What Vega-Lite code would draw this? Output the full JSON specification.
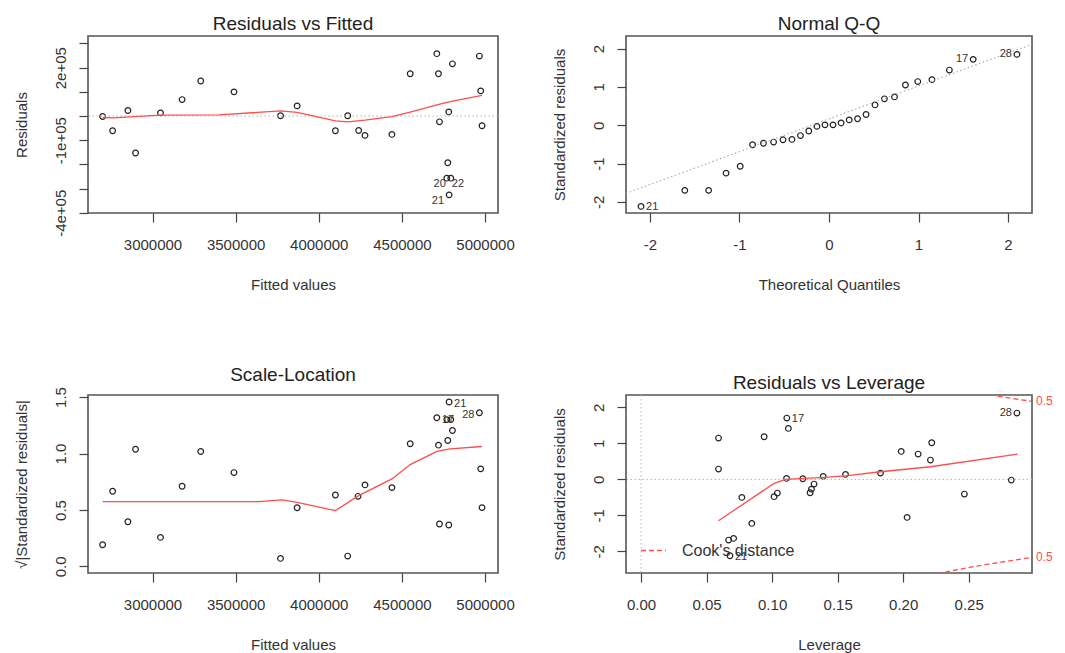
{
  "$schema": "https://vega.github.io/schema/vega-lite/v6.json",
  "background": "white",
  "padding": {"left": 13, "top": 14, "right": 5, "bottom": 5},
  "bounds": "flush",
  "columns": 2,
  "spacing": {"row": 182, "column": 128},
  "resolve": {"scale": {"color": "independent"}, "legend": {"color": "independent"}},
  "config": {
    "font": "Liberation Sans",
    "view": {"stroke": "#555555", "strokeWidth": 1.6},
    "axis": {
      "domain": false, "grid": false, "ticks": true, "tickSize": 9, "tickColor": "#444444", "tickWidth": 1.2,
      "labelFont": "Liberation Sans", "labelFontSize": 15, "labelColor": "#333333", "labelFlush": false, "labelOverlap": false,
      "titleFont": "Liberation Sans", "titleFontSize": 15, "titleFontWeight": "normal", "titleColor": "#333333"
    },
    "axisX": {"labelPadding": 15, "titlePadding": 25},
    "axisY": {"labelAngle": 270, "labelAlign": "center", "labelBaseline": "bottom", "labelPadding": 11, "titlePadding": 24},
    "title": {"font": "Liberation Sans", "fontSize": 19, "fontWeight": "normal", "color": "#222222", "anchor": "middle", "frame": "group", "offset": 2},
    "text": {"font": "Liberation Sans", "fontSize": 11, "color": "#333333"},
    "point": {"shape": "circle", "filled": false, "stroke": "#222222", "strokeWidth": 1.2, "size": 32, "opacity": 1}
  },
  "datasets": {
    "p1": [
      {"fitted": 2700000, "residual": -2000},
      {"fitted": 2760000, "residual": -61000},
      {"fitted": 2852000, "residual": 23000},
      {"fitted": 2898000, "residual": -153000},
      {"fitted": 3048000, "residual": 13000},
      {"fitted": 3178000, "residual": 68000},
      {"fitted": 3290000, "residual": 145000},
      {"fitted": 3490000, "residual": 100000},
      {"fitted": 3770000, "residual": 1000},
      {"fitted": 3870000, "residual": 42000},
      {"fitted": 4100000, "residual": -61000},
      {"fitted": 4174000, "residual": 1000},
      {"fitted": 4240000, "residual": -60000},
      {"fitted": 4278000, "residual": -80000},
      {"fitted": 4440000, "residual": -76000},
      {"fitted": 4550000, "residual": 175000},
      {"fitted": 4710000, "residual": 258000},
      {"fitted": 4720000, "residual": 175000},
      {"fitted": 4726000, "residual": -24000},
      {"fitted": 4804000, "residual": 216000},
      {"fitted": 4782000, "residual": 17000},
      {"fitted": 4776000, "residual": -193000},
      {"fitted": 4770000, "residual": -257000, "id": "22"},
      {"fitted": 4794000, "residual": -257000, "id": "20"},
      {"fitted": 4784000, "residual": -326000, "id": "21"},
      {"fitted": 4966000, "residual": 248000},
      {"fitted": 4974000, "residual": 104000},
      {"fitted": 4982000, "residual": -40000}
    ],
    "p1smooth": [
      {"fitted": 2700000, "residual": -6000},
      {"fitted": 2760000, "residual": -8000},
      {"fitted": 3048000, "residual": 4000},
      {"fitted": 3400000, "residual": 5000},
      {"fitted": 3770000, "residual": 21000},
      {"fitted": 3870000, "residual": 15000},
      {"fitted": 4100000, "residual": -20000},
      {"fitted": 4174000, "residual": -24000},
      {"fitted": 4278000, "residual": -17000},
      {"fitted": 4440000, "residual": -2000},
      {"fitted": 4550000, "residual": 16000},
      {"fitted": 4710000, "residual": 46000},
      {"fitted": 4790000, "residual": 60000},
      {"fitted": 4982000, "residual": 85000}
    ],
    "p2": [
      {"theoretical": -2.100, "standardized": -2.12, "id": "21"},
      {"theoretical": -1.611, "standardized": -1.70},
      {"theoretical": -1.345, "standardized": -1.70},
      {"theoretical": -1.150, "standardized": -1.25},
      {"theoretical": -0.992, "standardized": -1.07},
      {"theoretical": -0.854, "standardized": -0.51},
      {"theoretical": -0.732, "standardized": -0.47},
      {"theoretical": -0.619, "standardized": -0.44},
      {"theoretical": -0.514, "standardized": -0.38},
      {"theoretical": -0.414, "standardized": -0.37},
      {"theoretical": -0.319, "standardized": -0.27},
      {"theoretical": -0.226, "standardized": -0.15},
      {"theoretical": -0.135, "standardized": -0.03},
      {"theoretical": -0.045, "standardized": 0.01},
      {"theoretical": 0.045, "standardized": 0.01},
      {"theoretical": 0.135, "standardized": 0.06},
      {"theoretical": 0.226, "standardized": 0.14},
      {"theoretical": 0.319, "standardized": 0.17},
      {"theoretical": 0.414, "standardized": 0.28},
      {"theoretical": 0.514, "standardized": 0.53},
      {"theoretical": 0.619, "standardized": 0.69},
      {"theoretical": 0.732, "standardized": 0.74},
      {"theoretical": 0.854, "standardized": 1.05},
      {"theoretical": 0.992, "standardized": 1.14},
      {"theoretical": 1.150, "standardized": 1.19},
      {"theoretical": 1.345, "standardized": 1.44},
      {"theoretical": 1.611, "standardized": 1.72, "id": "17"},
      {"theoretical": 2.100, "standardized": 1.85, "id": "28"}
    ],
    "p2line": [
      {"theoretical": -2.268, "standardized": -1.778},
      {"theoretical": 2.268, "standardized": 2.114}
    ],
    "p3": [
      {"fitted": 2700000, "root": 0.192},
      {"fitted": 2760000, "root": 0.666},
      {"fitted": 2852000, "root": 0.396},
      {"fitted": 2898000, "root": 1.038},
      {"fitted": 3048000, "root": 0.257},
      {"fitted": 3178000, "root": 0.71},
      {"fitted": 3290000, "root": 1.018},
      {"fitted": 3490000, "root": 0.831},
      {"fitted": 3770000, "root": 0.071},
      {"fitted": 3870000, "root": 0.52},
      {"fitted": 4100000, "root": 0.633},
      {"fitted": 4174000, "root": 0.092},
      {"fitted": 4236000, "root": 0.621},
      {"fitted": 4278000, "root": 0.722},
      {"fitted": 4440000, "root": 0.698},
      {"fitted": 4550000, "root": 1.086},
      {"fitted": 4710000, "root": 1.317, "id": "17"},
      {"fitted": 4720000, "root": 1.074},
      {"fitted": 4726000, "root": 0.376},
      {"fitted": 4770000, "root": 1.30},
      {"fitted": 4794000, "root": 1.30},
      {"fitted": 4784000, "root": 1.456, "id": "21"},
      {"fitted": 4776000, "root": 1.115},
      {"fitted": 4804000, "root": 1.204},
      {"fitted": 4782000, "root": 0.367},
      {"fitted": 4966000, "root": 1.361, "id": "28"},
      {"fitted": 4974000, "root": 0.864},
      {"fitted": 4982000, "root": 0.521}
    ],
    "p3smooth": [
      {"fitted": 2700000, "root": 0.574},
      {"fitted": 3640000, "root": 0.574},
      {"fitted": 3780000, "root": 0.589},
      {"fitted": 3870000, "root": 0.568},
      {"fitted": 4100000, "root": 0.494},
      {"fitted": 4240000, "root": 0.627},
      {"fitted": 4440000, "root": 0.775},
      {"fitted": 4550000, "root": 0.902},
      {"fitted": 4710000, "root": 1.018},
      {"fitted": 4790000, "root": 1.041},
      {"fitted": 4982000, "root": 1.062}
    ],
    "p4": [
      {"leverage": 0.0591, "standardized": 1.148},
      {"leverage": 0.0591, "standardized": 0.287},
      {"leverage": 0.0668, "standardized": -1.685},
      {"leverage": 0.0706, "standardized": -1.639},
      {"leverage": 0.0678, "standardized": -2.12, "id": "21"},
      {"leverage": 0.0769, "standardized": -0.50},
      {"leverage": 0.0845, "standardized": -1.222},
      {"leverage": 0.0939, "standardized": 1.185},
      {"leverage": 0.1015, "standardized": -0.48},
      {"leverage": 0.104, "standardized": -0.38},
      {"leverage": 0.111, "standardized": 0.028},
      {"leverage": 0.1112, "standardized": 1.704, "id": "17"},
      {"leverage": 0.1124, "standardized": 1.417},
      {"leverage": 0.1234, "standardized": 0.019},
      {"leverage": 0.129, "standardized": -0.37},
      {"leverage": 0.130, "standardized": -0.27},
      {"leverage": 0.132, "standardized": -0.13},
      {"leverage": 0.139, "standardized": 0.083},
      {"leverage": 0.156, "standardized": 0.139},
      {"leverage": 0.1827, "standardized": 0.176},
      {"leverage": 0.1985, "standardized": 0.778},
      {"leverage": 0.203, "standardized": -1.056},
      {"leverage": 0.2114, "standardized": 0.704},
      {"leverage": 0.2208, "standardized": 0.537},
      {"leverage": 0.2218, "standardized": 1.019},
      {"leverage": 0.2467, "standardized": -0.407},
      {"leverage": 0.2825, "standardized": -0.019},
      {"leverage": 0.2868, "standardized": 1.843, "id": "28"}
    ],
    "p4smooth": [
      {"leverage": 0.0591, "standardized": -1.148},
      {"leverage": 0.1015, "standardized": -0.11},
      {"leverage": 0.1104, "standardized": 0.0},
      {"leverage": 0.1396, "standardized": 0.056},
      {"leverage": 0.156, "standardized": 0.10},
      {"leverage": 0.1827, "standardized": 0.213},
      {"leverage": 0.2208, "standardized": 0.352},
      {"leverage": 0.2873, "standardized": 0.70}
    ],
    "p4cook": [
      {"leverage": 0.26, "standardized": 2.386, "branch": "upper", "series": "Cook's distance"},
      {"leverage": 0.265, "standardized": 2.355, "branch": "upper", "series": "Cook's distance"},
      {"leverage": 0.27, "standardized": 2.325, "branch": "upper", "series": "Cook's distance"},
      {"leverage": 0.28, "standardized": 2.268, "branch": "upper", "series": "Cook's distance"},
      {"leverage": 0.29, "standardized": 2.213, "branch": "upper", "series": "Cook's distance"},
      {"leverage": 0.2983, "standardized": 2.169, "branch": "upper", "series": "Cook's distance"},
      {"leverage": 0.22, "standardized": -2.663, "branch": "lower", "series": "Cook's distance"},
      {"leverage": 0.23, "standardized": -2.588, "branch": "lower", "series": "Cook's distance"},
      {"leverage": 0.24, "standardized": -2.517, "branch": "lower", "series": "Cook's distance"},
      {"leverage": 0.25, "standardized": -2.449, "branch": "lower", "series": "Cook's distance"},
      {"leverage": 0.26, "standardized": -2.386, "branch": "lower", "series": "Cook's distance"},
      {"leverage": 0.27, "standardized": -2.325, "branch": "lower", "series": "Cook's distance"},
      {"leverage": 0.28, "standardized": -2.268, "branch": "lower", "series": "Cook's distance"},
      {"leverage": 0.29, "standardized": -2.213, "branch": "lower", "series": "Cook's distance"},
      {"leverage": 0.2983, "standardized": -2.169, "branch": "lower", "series": "Cook's distance"}
    ],
    "p4cooklab": [
      {"leverage": 0.2983, "standardized": 2.169, "level": "0.5"},
      {"leverage": 0.2983, "standardized": -2.169, "level": "0.5"}
    ]
  },
  "concat": [
    {
      "width": 410, "height": 177,
      "title": "Residuals vs Fitted",
      "layer": [
        {
          "data": {"name": "p1"},
          "mark": {"type": "point"},
          "encoding": {
            "x": {"field": "fitted", "type": "quantitative", "title": "Fitted values", "scale": {"domain": [2612000, 5078000], "nice": false, "zero": false},
                  "axis": {"values": [3000000, 3500000, 4000000, 4500000, 5000000], "format": "d", "labelOverlap": false}},
            "y": {"field": "residual", "type": "quantitative", "title": "Residuals", "scale": {"domain": [-401000, 331000], "nice": false, "zero": false},
                  "axis": {"tickCount": 8, "values": [-400000, -300000, -200000, -100000, 0, 100000, 200000, 300000], "labelOverlap": false,
                           "labelExpr": "datum.value == 200000 ? '2e+05' : datum.value == -100000 ? '-1e+05' : datum.value == -400000 ? '-4e+05' : ''"}}
          }
        },
        {
          "data": {"values": [{"residual": 0}]},
          "mark": {"type": "rule", "color": "#b5b5b5", "strokeDash": [1.5, 2.5], "strokeWidth": 1},
          "encoding": {"y": {"field": "residual", "type": "quantitative", "title": "Residuals", "scale": {"domain": [-401000, 331000], "nice": false, "zero": false}}}
        },
        {
          "data": {"name": "p1smooth"},
          "mark": {"type": "line", "color": "#ff4d4d", "strokeWidth": 1.3},
          "encoding": {
            "x": {"field": "fitted", "type": "quantitative", "title": "Fitted values", "scale": {"domain": [2612000, 5078000], "nice": false, "zero": false}},
            "y": {"field": "residual", "type": "quantitative", "title": "Residuals", "scale": {"domain": [-401000, 331000], "nice": false, "zero": false}}
          }
        },
        {
          "data": {"name": "p1"},
          "transform": [{"filter": "datum.id == '22'"}],
          "mark": {"type": "text", "align": "left", "baseline": "middle", "dx": 5, "dy": 6},
          "encoding": {
            "x": {"field": "fitted", "type": "quantitative", "title": "Fitted values", "scale": {"domain": [2612000, 5078000], "nice": false, "zero": false}},
            "y": {"field": "residual", "type": "quantitative", "title": "Residuals", "scale": {"domain": [-401000, 331000], "nice": false, "zero": false}},
            "text": {"field": "id"}
          }
        },
        {
          "data": {"name": "p1"},
          "transform": [{"filter": "datum.id == '20' || datum.id == '21'"}],
          "mark": {"type": "text", "align": "right", "baseline": "middle", "dx": -5, "dy": 6},
          "encoding": {
            "x": {"field": "fitted", "type": "quantitative", "title": "Fitted values", "scale": {"domain": [2612000, 5078000], "nice": false, "zero": false}},
            "y": {"field": "residual", "type": "quantitative", "title": "Residuals", "scale": {"domain": [-401000, 331000], "nice": false, "zero": false}},
            "text": {"field": "id"}
          }
        }
      ]
    },
    {
      "width": 406, "height": 177,
      "title": "Normal Q-Q",
      "layer": [
        {
          "data": {"name": "p2"},
          "mark": {"type": "point"},
          "encoding": {
            "x": {"field": "theoretical", "type": "quantitative", "title": "Theoretical Quantiles", "scale": {"domain": [-2.268, 2.268], "nice": false, "zero": false},
                  "axis": {"values": [-2, -1, 0, 1, 2], "format": "d", "labelOverlap": false, "labelExpr": "replace(datum.label, '−', '-')"}},
            "y": {"field": "standardized", "type": "quantitative", "title": "Standardized residuals", "scale": {"domain": [-2.291, 2.33], "nice": false, "zero": false},
                  "axis": {"values": [-2, -1, 0, 1, 2], "format": "d", "labelOverlap": false, "labelExpr": "replace(datum.label, '−', '-')"}}
          }
        },
        {
          "data": {"name": "p2line"},
          "mark": {"type": "line", "color": "#a8a8a8", "strokeDash": [1.5, 2.5], "strokeWidth": 1.1, "clip": true},
          "encoding": {
            "x": {"field": "theoretical", "type": "quantitative", "title": "Theoretical Quantiles", "scale": {"domain": [-2.268, 2.268], "nice": false, "zero": false}},
            "y": {"field": "standardized", "type": "quantitative", "title": "Standardized residuals", "scale": {"domain": [-2.291, 2.33], "nice": false, "zero": false}}
          }
        },
        {
          "data": {"name": "p2"},
          "transform": [{"filter": "datum.id == '21'"}],
          "mark": {"type": "text", "align": "left", "baseline": "middle", "dx": 5, "dy": 1},
          "encoding": {
            "x": {"field": "theoretical", "type": "quantitative", "title": "Theoretical Quantiles", "scale": {"domain": [-2.268, 2.268], "nice": false, "zero": false}},
            "y": {"field": "standardized", "type": "quantitative", "title": "Standardized residuals", "scale": {"domain": [-2.291, 2.33], "nice": false, "zero": false}},
            "text": {"field": "id"}
          }
        },
        {
          "data": {"name": "p2"},
          "transform": [{"filter": "datum.id == '17' || datum.id == '28'"}],
          "mark": {"type": "text", "align": "right", "baseline": "middle", "dx": -5, "dy": 0},
          "encoding": {
            "x": {"field": "theoretical", "type": "quantitative", "title": "Theoretical Quantiles", "scale": {"domain": [-2.268, 2.268], "nice": false, "zero": false}},
            "y": {"field": "standardized", "type": "quantitative", "title": "Standardized residuals", "scale": {"domain": [-2.291, 2.33], "nice": false, "zero": false}},
            "text": {"field": "id"}
          }
        }
      ]
    },
    {
      "width": 410, "height": 178,
      "title": "Scale-Location",
      "layer": [
        {
          "data": {"name": "p3"},
          "mark": {"type": "point"},
          "encoding": {
            "x": {"field": "fitted", "type": "quantitative", "title": "Fitted values", "scale": {"domain": [2612000, 5078000], "nice": false, "zero": false},
                  "axis": {"values": [3000000, 3500000, 4000000, 4500000, 5000000], "format": "d", "labelOverlap": false}},
            "y": {"field": "root", "type": "quantitative", "title": "√|Standardized residuals|", "scale": {"domain": [-0.058, 1.518], "nice": false, "zero": false},
                  "axis": {"values": [0, 0.5, 1, 1.5], "format": ".1f", "labelOverlap": false}}
          }
        },
        {
          "data": {"name": "p3smooth"},
          "mark": {"type": "line", "color": "#ff4d4d", "strokeWidth": 1.3},
          "encoding": {
            "x": {"field": "fitted", "type": "quantitative", "title": "Fitted values", "scale": {"domain": [2612000, 5078000], "nice": false, "zero": false}},
            "y": {"field": "root", "type": "quantitative", "title": "√|Standardized residuals|", "scale": {"domain": [-0.058, 1.518], "nice": false, "zero": false}}
          }
        },
        {
          "data": {"name": "p3"},
          "transform": [{"filter": "datum.id == '21' || datum.id == '17'"}],
          "mark": {"type": "text", "align": "left", "baseline": "middle", "dx": 5, "dy": 2},
          "encoding": {
            "x": {"field": "fitted", "type": "quantitative", "title": "Fitted values", "scale": {"domain": [2612000, 5078000], "nice": false, "zero": false}},
            "y": {"field": "root", "type": "quantitative", "title": "√|Standardized residuals|", "scale": {"domain": [-0.058, 1.518], "nice": false, "zero": false}},
            "text": {"field": "id"}
          }
        },
        {
          "data": {"name": "p3"},
          "transform": [{"filter": "datum.id == '28'"}],
          "mark": {"type": "text", "align": "right", "baseline": "middle", "dx": -5, "dy": 2},
          "encoding": {
            "x": {"field": "fitted", "type": "quantitative", "title": "Fitted values", "scale": {"domain": [2612000, 5078000], "nice": false, "zero": false}},
            "y": {"field": "root", "type": "quantitative", "title": "√|Standardized residuals|", "scale": {"domain": [-0.058, 1.518], "nice": false, "zero": false}},
            "text": {"field": "id"}
          }
        }
      ]
    },
    {
      "width": 406, "height": 178,
      "title": "Residuals vs Leverage",
      "layer": [
        {
          "data": {"name": "p4"},
          "mark": {"type": "point"},
          "encoding": {
            "x": {"field": "leverage", "type": "quantitative", "title": "Leverage", "scale": {"domain": [-0.0115, 0.2983], "nice": false, "zero": false},
                  "axis": {"values": [0, 0.05, 0.1, 0.15, 0.2, 0.25], "format": ".2f", "labelOverlap": false}},
            "y": {"field": "standardized", "type": "quantitative", "title": "Standardized residuals", "scale": {"domain": [-2.6, 2.345], "nice": false, "zero": false},
                  "axis": {"values": [-2, -1, 0, 1, 2], "format": "d", "labelOverlap": false, "labelExpr": "replace(datum.label, '−', '-')"}}
          }
        },
        {
          "data": {"values": [{"leverage": 0}]},
          "mark": {"type": "rule", "color": "#b5b5b5", "strokeDash": [1.5, 2.5], "strokeWidth": 1},
          "encoding": {"x": {"field": "leverage", "type": "quantitative", "title": "Leverage", "scale": {"domain": [-0.0115, 0.2983], "nice": false, "zero": false}}}
        },
        {
          "data": {"values": [{"standardized": 0}]},
          "mark": {"type": "rule", "color": "#b5b5b5", "strokeDash": [1.5, 2.5], "strokeWidth": 1},
          "encoding": {"y": {"field": "standardized", "type": "quantitative", "title": "Standardized residuals", "scale": {"domain": [-2.6, 2.345], "nice": false, "zero": false}}}
        },
        {
          "data": {"name": "p4smooth"},
          "mark": {"type": "line", "color": "#ff4d4d", "strokeWidth": 1.3},
          "encoding": {
            "x": {"field": "leverage", "type": "quantitative", "title": "Leverage", "scale": {"domain": [-0.0115, 0.2983], "nice": false, "zero": false}},
            "y": {"field": "standardized", "type": "quantitative", "title": "Standardized residuals", "scale": {"domain": [-2.6, 2.345], "nice": false, "zero": false}}
          }
        },
        {
          "data": {"name": "p4cook"},
          "mark": {"type": "line", "strokeDash": [5, 3], "strokeWidth": 1.3, "clip": true},
          "encoding": {
            "x": {"field": "leverage", "type": "quantitative", "title": "Leverage", "scale": {"domain": [-0.0115, 0.2983], "nice": false, "zero": false}},
            "y": {"field": "standardized", "type": "quantitative", "title": "Standardized residuals", "scale": {"domain": [-2.6, 2.345], "nice": false, "zero": false}},
            "detail": {"field": "branch"},
            "color": {"field": "series", "type": "nominal", "scale": {"domain": ["Cook's distance"], "range": ["#ff4d4d"]},
                      "legend": {"title": null, "orient": "bottom-left", "offset": 14, "padding": 0, "symbolType": "stroke", "symbolDash": [5, 3],
                                 "symbolStrokeWidth": 1.5, "symbolSize": 625, "labelFontSize": 16, "labelFont": "Liberation Sans", "labelColor": "#333333", "labelOffset": 15}}
          }
        },
        {
          "data": {"name": "p4cooklab"},
          "mark": {"type": "text", "align": "left", "baseline": "middle", "dx": 4, "color": "#ff4d4d", "fontSize": 12},
          "encoding": {
            "x": {"field": "leverage", "type": "quantitative", "title": "Leverage", "scale": {"domain": [-0.0115, 0.2983], "nice": false, "zero": false}},
            "y": {"field": "standardized", "type": "quantitative", "title": "Standardized residuals", "scale": {"domain": [-2.6, 2.345], "nice": false, "zero": false}},
            "text": {"field": "level"}
          }
        },
        {
          "data": {"name": "p4"},
          "transform": [{"filter": "datum.id == '21' || datum.id == '17'"}],
          "mark": {"type": "text", "align": "left", "baseline": "middle", "dx": 5, "dy": 1},
          "encoding": {
            "x": {"field": "leverage", "type": "quantitative", "title": "Leverage", "scale": {"domain": [-0.0115, 0.2983], "nice": false, "zero": false}},
            "y": {"field": "standardized", "type": "quantitative", "title": "Standardized residuals", "scale": {"domain": [-2.6, 2.345], "nice": false, "zero": false}},
            "text": {"field": "id"}
          }
        },
        {
          "data": {"name": "p4"},
          "transform": [{"filter": "datum.id == '28'"}],
          "mark": {"type": "text", "align": "right", "baseline": "middle", "dx": -5, "dy": 0},
          "encoding": {
            "x": {"field": "leverage", "type": "quantitative", "title": "Leverage", "scale": {"domain": [-0.0115, 0.2983], "nice": false, "zero": false}},
            "y": {"field": "standardized", "type": "quantitative", "title": "Standardized residuals", "scale": {"domain": [-2.6, 2.345], "nice": false, "zero": false}},
            "text": {"field": "id"}
          }
        }
      ]
    }
  ]
}
